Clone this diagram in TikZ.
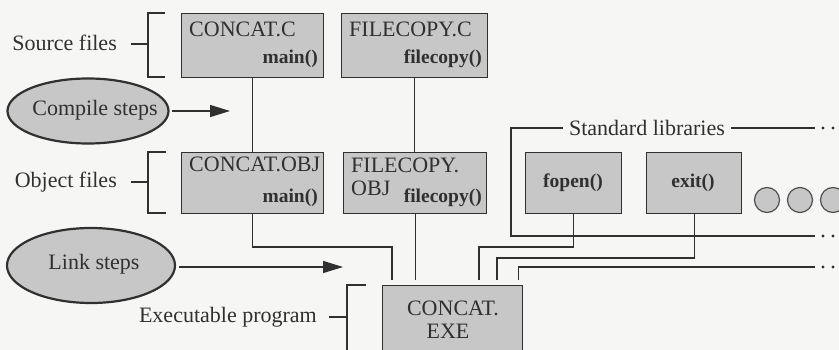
\documentclass[tikz,border=0pt]{standalone}
\usepackage{fontspec}
\setmainfont{Liberation Serif}
\usetikzlibrary{arrows.meta,calc,shapes.geometric}
\definecolor{bgc}{HTML}{F6F6F4}
\definecolor{boxc}{HTML}{C7C7C7}
\definecolor{ink}{HTML}{303030}
\begin{document}
\begin{tikzpicture}[x=1pt,y=-1pt,
  filebox/.style={draw=ink, line width=1.4pt, fill=boxc, inner sep=0pt, anchor=north west},
  txt/.style={font=\fontsize{22}{24}\selectfont, text=ink, inner sep=0pt},
  fn/.style={font=\fontsize{19.5}{22}\selectfont\bfseries, text=ink, inner sep=0pt},
  conn/.style={draw=ink, line width=1.3pt},
  arr/.style={conn, -{Triangle[length=20pt,width=12pt]}},
  stepell/.style={ellipse, draw=ink, line width=2.2pt, fill=boxc, inner sep=0pt},
  libcirc/.style={circle, draw=ink!85, line width=1.2pt, fill=boxc, minimum size=25pt, inner sep=0pt},
  dotm/.style={fill=ink}
]
\clip (0,0) rectangle (839,350);
\fill[bgc] (0,0) rectangle (839,350);

% boxes
\node[filebox, minimum width=142pt, minimum height=64pt] (src1) at (181,13) {};
\node[filebox, minimum width=146pt, minimum height=64pt] (src2) at (341,13) {};
\node[filebox, minimum width=142pt, minimum height=61pt] (obj1) at (181,152) {};
\node[filebox, minimum width=143pt, minimum height=61pt] (obj2) at (343,152) {};
\node[filebox, minimum width=96pt, minimum height=61pt] (fopen) at (525,152) {};
\node[filebox, minimum width=95pt, minimum height=61pt] (exit) at (646,152) {};
\node[filebox, minimum width=140pt, minimum height=90pt] (exe) at (382,285) {};

% box texts
\node[txt, anchor=base west] (src1a) at (189,37) {CONCAT.C};
\node[fn, anchor=base east] (src1b) at (318,64) {main()};
\node[txt, anchor=base west] (src2a) at (349,37) {FILECOPY.C};
\node[fn, anchor=base east] (src2b) at (482,64) {filecopy()};
\node[txt, anchor=base west] (obj1a) at (189,172) {CONCAT.OBJ};
\node[fn, anchor=base east] (obj1b) at (318,203) {main()};
\node[txt, anchor=base west] (obj2a) at (351,173) {FILECOPY.};
\node[txt, anchor=base west] (obj2c) at (351,196) {OBJ};
\node[fn, anchor=base east] (obj2b) at (482,203) {filecopy()};
\node[fn] (fopent) at (573,183) {fopen()};
\node[fn] (exitt) at (693,183) {exit()};
\node[txt, anchor=base] (exea) at (453,315) {CONCAT.};
\node[txt, anchor=base] (exeb) at (448,338) {EXE};

% group labels and brackets
\node[txt, anchor=base east] (srclab) at (117,51) {Source files};
\draw[conn] (165,13) -- (148,13) -- (148,77) -- (165,77);
\draw[conn] (131,44) -- (148,44);
\node[txt, anchor=base east] (objlab) at (117,188) {Object files};
\draw[conn] (166,152) -- (148,152) -- (148,213) -- (166,213);
\draw[conn] (131,182) -- (148,182);
\node[txt, anchor=base east] (exelab) at (317,322) {Executable program};
\draw[conn] (366,285) -- (347,285) -- (347,360);
\draw[conn] (329,317) -- (347,317);

% steps
\node[stepell, minimum width=161pt, minimum height=65pt] (compile) at (88,111) {};
\node[txt] (compilet) at (95,110) {Compile steps};
\coordinate (a1) at (230,111);
\draw[arr] ($(compile.east)+(2,0)$) -- (a1);
\node[stepell, minimum width=168pt, minimum height=75pt] (link) at (91,265.5) {};
\node[txt] (linkt) at (94,264) {Link steps};
\coordinate (a2) at (343,267);
\draw[arr] ($(link.east)+(3,1.5)$) -- (a2);

% compile connectors
\draw[conn] (src1.south) -- (obj1.north);
\draw[conn] (src2.south) -- (src2.south |- obj2.north);

% link connectors
\coordinate (j1) at (392,247);
\draw[conn, shorten >=5pt] (obj1.south) |- (j1) -- (j1 |- exe.north);
\draw[conn, shorten >=5pt] (obj2.south) -- (obj2.south |- exe.north);
\coordinate (j2) at (479,247);
\draw[conn, shorten >=5pt] (fopen.south) |- (j2) -- (j2 |- exe.north);
\coordinate (j3) at (497,258);
\draw[conn, shorten >=5pt] (exit.south) |- (j3) -- (j3 |- exe.north);
\coordinate (r3) at (815,267);
\draw[conn, shorten <=5pt] ($(exe.north east)+(-5,0)$) |- (r3);
\fill[dotm] (823,267) circle (1.6);
\fill[dotm] (833,267) circle (1.6);

% standard libraries
\node[txt, inner xsep=6pt] (stdlib) at (647,128) {Standard libraries};
\coordinate (c1) at (511,128);
\coordinate (r0) at (815,128);
\coordinate (r1) at (815,236);
\draw[conn] (stdlib.west) -- (c1) -- (c1 |- r1) -- (r1);
\draw[conn] (stdlib.east) -- (r0);
\fill[dotm] (823,128) circle (1.6);
\fill[dotm] (833,128) circle (1.6);
\fill[dotm] (823,236) circle (1.6);
\fill[dotm] (833,236) circle (1.6);

% more library circles
\node[libcirc] (lib1) at (767,200) {};
\node[libcirc] (lib2) at (800,200) {};
\node[libcirc] (lib3) at (833,200) {};
\end{tikzpicture}
\end{document}
